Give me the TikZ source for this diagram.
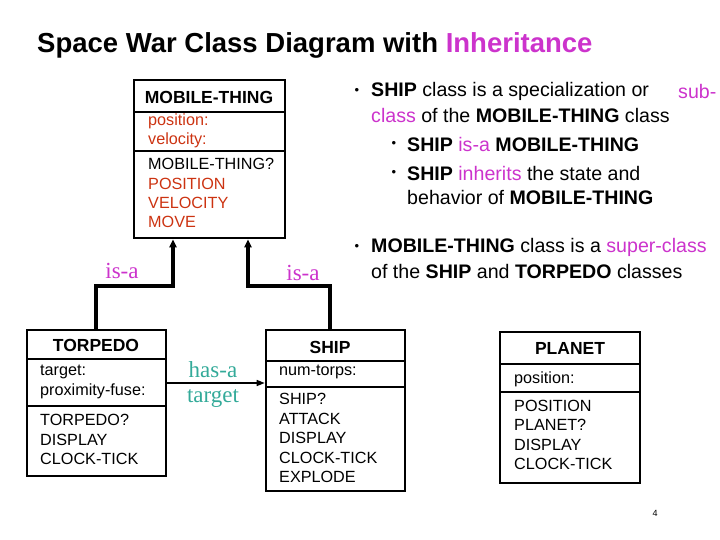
\documentclass[tikz,border=0pt]{standalone}
\usepackage{fontspec}
\setmainfont{Liberation Sans}
\newfontfamily\tms{Liberation Serif}
\usetikzlibrary{arrows.meta}
\definecolor{ored}{HTML}{CC3311}
\definecolor{mag}{HTML}{CC33CC}
\definecolor{teal2}{HTML}{33AA99}
\begin{document}
\begin{tikzpicture}[x=1pt,y=-1pt,
  box/.style={draw,line width=2.6pt,inner sep=0pt},
  dv/.style={line width=2pt},
  bt/.style={anchor=west,inner sep=0pt,font=\fontsize{16.2}{16}\selectfont},
  hd/.style={inner sep=0pt,font=\fontsize{17.5}{17}\selectfont\bfseries},
  rel/.style={inner sep=0pt,font=\tms\fontsize{23}{23}\selectfont},
  conn/.style={line width=3.8pt,-{Triangle[length=8pt,width=7pt]}},
  tx/.style={anchor=west,inner sep=0pt,font=\fontsize{19.6}{19}\selectfont},
  dot/.style={anchor=center,inner sep=0pt,font=\fontsize{13}{13}\selectfont}]
\useasboundingbox (0,0) rectangle (720,540);
\node[anchor=west,inner sep=0pt,font=\fontsize{27.5}{27}\selectfont\bfseries] (title) at (37,45) {Space War Class Diagram with \textcolor{mag}{Inheritance}};
% MOBILE-THING
\node[box,minimum width=151pt,minimum height=158pt] (mt) at (209.5,159) {};
\draw[dv] (134,112) -- (285,112); \draw[dv] (134,151) -- (285,151);
\node[hd] (mth) at (209,97) {MOBILE-THING};
\node[bt,ored] (m1) at (148,121) {position:};
\node[bt,ored] (m2) at (148,140) {velocity:};
\node[bt] (m3) at (148,164) {MOBILE-THING?};
\node[bt,ored] (m4) at (148,184) {POSITION};
\node[bt,ored] (m5) at (148,203) {VELOCITY};
\node[bt,ored] (m6) at (148,222) {MOVE};
% TORPEDO
\node[box,minimum width=139pt,minimum height=146pt] (tp) at (96.5,403) {};
\draw[dv] (27,359) -- (166,359); \draw[dv] (27,406) -- (166,406);
\node[hd] (tph) at (96,345) {TORPEDO};
\node[bt] (t1) at (40,372) {target:};
\node[bt] (t2) at (40,391) {proximity-fuse:};
\node[bt] (t3) at (40,420) {TORPEDO?};
\node[bt] (t4) at (40,440) {DISPLAY};
\node[bt] (t5) at (40,459) {CLOCK-TICK};
% SHIP
\node[box,minimum width=139pt,minimum height=161pt] (sh) at (335.5,410.5) {};
\draw[dv] (266,361) -- (405,361); \draw[dv] (266,387) -- (405,387);
\node[hd] (shh) at (330,347) {SHIP};
\node[bt] (s1) at (279,372) {num-torps:};
\node[bt] (s2) at (279,399) {SHIP?};
\node[bt] (s3) at (279,419) {ATTACK};
\node[bt] (s4) at (279,438) {DISPLAY};
\node[bt] (s5) at (279,458) {CLOCK-TICK};
\node[bt] (s6) at (279,477) {EXPLODE};
% PLANET
\node[box,minimum width=140pt,minimum height=151pt] (pl) at (570,407.5) {};
\draw[dv] (500,364) -- (640,364); \draw[dv] (500,392) -- (640,392);
\node[hd] (plh) at (570,348) {PLANET};
\node[bt] (p1) at (514,379) {position:};
\node[bt] (p2) at (514,406) {POSITION};
\node[bt] (p3) at (514,425) {PLANET?};
\node[bt] (p4) at (514,445) {DISPLAY};
\node[bt] (p5) at (514,464) {CLOCK-TICK};
% connectors
\draw[conn] (tp.north -| 96,0) |- (173,286) -- (mt.south -| 173,0);
\draw[conn] (sh.north -| 330,0) |- (248,286) -- (mt.south -| 248,0);
\draw[line width=1.5pt,-{Triangle[length=8pt,width=6pt]}] (tp.east |- 0,383) -- (sh.west |- 0,383);
\node[rel,mag] (isa1) at (122,271) {is-a};
\node[rel,mag] (isa2) at (303,273) {is-a};
\node[rel,teal2] (hasa) at (213,370) {has-a};
\node[rel,teal2] (tgt) at (213,399) {target};
% text
\node[dot] (d1) at (357,91) {•};
\node[tx] (l1) at (371,91) {\textbf{SHIP} class is a specialization or};
\node[tx,mag] (l1b) at (678,91) {sub-};
\node[tx] (l2) at (371,115) {\textcolor{mag}{class} of the \textbf{MOBILE-THING} class};
\node[dot] (d2) at (394,144) {•};
\node[tx] (l3) at (407,144) {\textbf{SHIP} \textcolor{mag}{is-a} \textbf{MOBILE-THING}};
\node[dot] (d3) at (394,173) {•};
\node[tx] (l4) at (407,173) {\textbf{SHIP} \textcolor{mag}{inherits} the state and};
\node[tx] (l5) at (407,197) {behavior of \textbf{MOBILE-THING}};
\node[dot] (d4) at (357,247) {•};
\node[tx] (l6) at (371,247) {\textbf{MOBILE-THING} class is a \textcolor{mag}{super-class}};
\node[tx] (l7) at (371,271) {of the \textbf{SHIP} and \textbf{TORPEDO} classes};
\node[inner sep=0pt,font=\fontsize{9}{9}\selectfont] (pg) at (655,513) {4};
\end{tikzpicture}
\end{document}
